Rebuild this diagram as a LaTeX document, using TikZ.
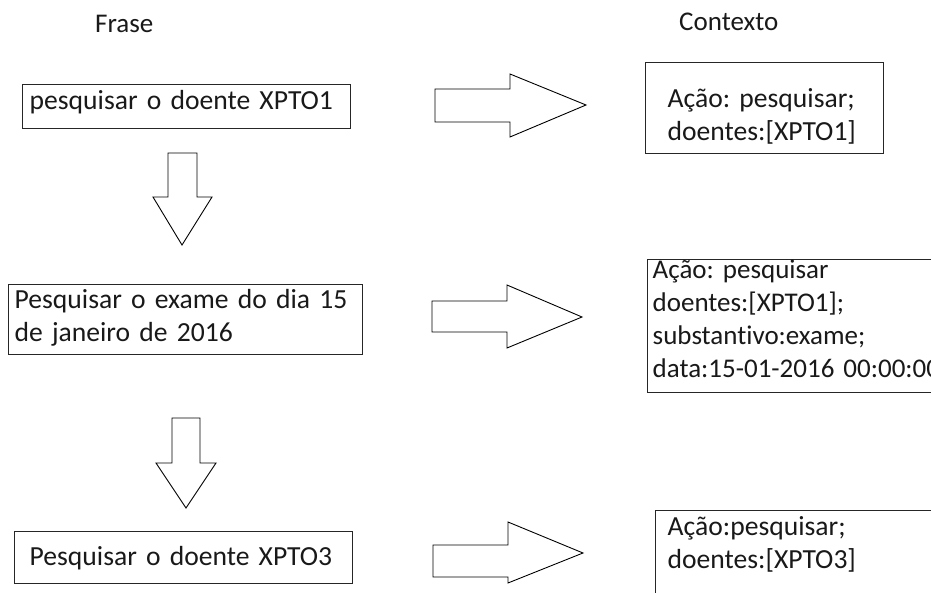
\documentclass[tikz,border=0pt]{standalone}
\usepackage{fontspec}
\setmainfont{Carlito}[Ligatures=NoCommon]
\frenchspacing
\begin{document}
\begin{tikzpicture}[x=1pt,y=-1pt,
  txtbox/.style={draw=black!85, line width=1.4pt, anchor=north west, inner ysep=0pt,
    align=left, font=\fontsize{27.6}{33}\selectfont\frenchspacing, text=black!90},
  blockarrow/.style={draw=black, line width=0.9pt, fill=white, line join=miter},
  heading/.style={anchor=base west, inner sep=0pt, font=\fontsize{27}{32}\selectfont, text=black!90}]
\useasboundingbox (0,0) rectangle (931,593);
\clip (0,0) rectangle (931,593);
\fill[white] (0,0) rectangle (931,593);

% headings
\node[heading] (hfrase) at (95,33) {Frase};
\node[heading] (hctx) at (679,31) {Contexto};

% left column
\node[txtbox, inner xsep=7pt, text width=314pt, text height=25pt, text depth=19pt] (f1) at (22,84) {\mbox{pesquisar o doente XPTO1}};
\node[txtbox, inner xsep=6pt, text width=342pt, text height=24pt, text depth=46pt] (f2) at (8,284) {\mbox{Pesquisar o exame do dia 15}\\\mbox{de janeiro de 2016}};
\node[txtbox, inner xsep=15pt, text width=308pt, text height=34pt, text depth=18pt] (f3) at (14,531) {\mbox{Pesquisar o doente XPTO3}};

% right column
\node[txtbox, inner xsep=22pt, text width=194pt, text height=45pt, text depth=46pt] (c1) at (645,62) {\mbox{Ação: pesquisar;}\\\mbox{doentes:[XPTO1]}};
\node[txtbox, inner xsep=5pt, text width=318pt, text height=19pt, text depth=114pt, font=\fontsize{27}{33}\selectfont\frenchspacing] (c2) at (647,259) {\mbox{Ação: pesquisar}\\\mbox{doentes:[XPTO1];}\\\mbox{substantivo:exame;}\\\mbox{data:15-01-2016 00:00:00}};
\node[txtbox, inner xsep=12pt, text width=296pt, text height=25pt, text depth=90pt] (c3) at (655,510) {\mbox{Ação:pesquisar;}\\\mbox{doentes:[XPTO3]}};

% right block arrows
\draw[blockarrow] (435,89) -- (510,89) -- (510,74) -- (586,105) -- (510,137) -- (510,122) -- (435,122) -- cycle;
\draw[blockarrow] (432,301) -- (507,301) -- (507,285) -- (582,317) -- (507,348) -- (507,332) -- (432,332) -- cycle;
\draw[blockarrow] (433,545) -- (508,545) -- (508,522) -- (583,553) -- (508,583) -- (508,577) -- (433,577) -- cycle;

% down block arrows
\draw[blockarrow] (168,153) -- (197,153) -- (197,197) -- (212,197) -- (182,245) -- (153,197) -- (168,197) -- cycle;
\draw[blockarrow] (172,418) -- (200,418) -- (200,463) -- (216,463) -- (186,508) -- (156,463) -- (172,463) -- cycle;
\end{tikzpicture}
\end{document}
